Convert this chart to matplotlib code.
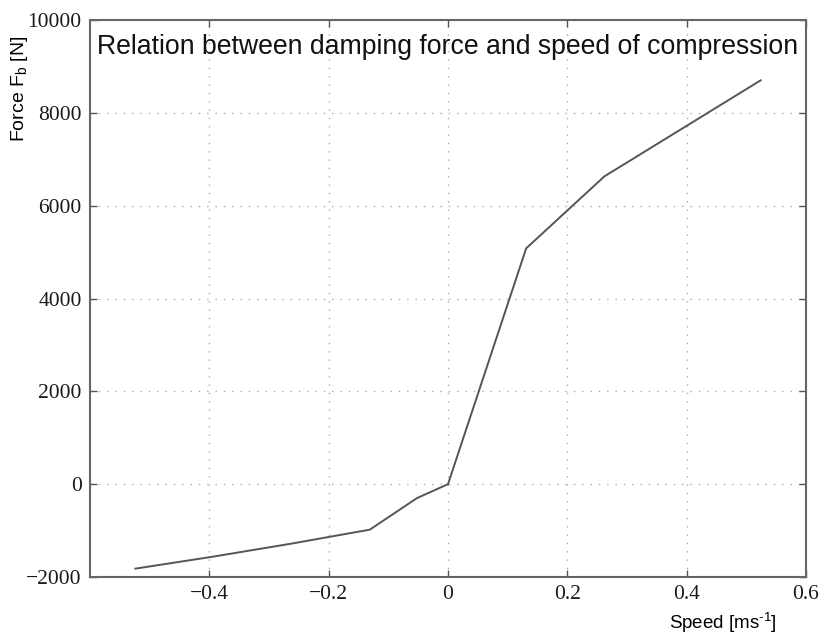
import matplotlib
matplotlib.use("Agg")
import matplotlib.pyplot as plt

plt.rcParams["mathtext.fontset"] = "custom"
plt.rcParams["mathtext.rm"] = "Liberation Sans"
plt.rcParams["mathtext.it"] = "Liberation Sans:italic"

# Damper characteristic: speed of compression vs. damping force
speed = [-0.524, -0.393, -0.262, -0.131, -0.052, 0.0, 0.131, 0.262, 0.524]
force = [-1820, -1560, -1280, -980, -300, 0, 5080, 6630, 8700]

x_ticks = [-0.4, -0.2, 0.0, 0.2, 0.4, 0.6]
x_tick_labels = ["\u22120.4", "\u22120.2", "0", "0.2", "0.4", "0.6"]
y_ticks = [-2000, 0, 2000, 4000, 6000, 8000, 10000]
y_tick_labels = ["\u22122000", "0", "2000", "4000", "6000", "8000", "10000"]

fig = plt.figure(figsize=(8.24, 6.34), dpi=100)
ax = fig.add_axes([90 / 824, 1 - 577 / 634, (806 - 90) / 824, (577 - 20) / 634])

ax.plot(speed, force, color="#555555", linewidth=1.4)

ax.set_xlim(-0.6, 0.6)
ax.set_ylim(-2000, 10000)
ax.set_xticks(x_ticks)
ax.set_xticklabels(x_tick_labels)
ax.set_yticks(y_ticks)
ax.set_yticklabels(y_tick_labels)

for lbl in ax.get_xticklabels() + ax.get_yticklabels():
    lbl.set_fontfamily("Liberation Serif")
    lbl.set_fontsize(15.5)
    lbl.set_color("#1a1a1a")

ax.tick_params(direction="in", length=5, width=1, color="#555555",
               top=True, right=True, pad=6)
ax.grid(True, linestyle=(0, (1, 5)), color="#aaaaaa", linewidth=1)
for sp in ax.spines.values():
    sp.set_color("#666666")
    sp.set_linewidth(1.5)

ax.text(0.01, 0.975, "Relation between damping force and speed of compression",
        transform=ax.transAxes, ha="left", va="top",
        fontfamily="Liberation Sans", fontsize=19.2, color="#111111")

fig.text(777 / 824, 1 - 623 / 634, "Speed [ms$^{\\text{-}1}$]", ha="right", va="center",
         fontfamily="Liberation Sans", fontsize=13.5)
fig.text(20 / 824, 1 - 89 / 634, "Force F$_\\mathrm{b}$ [N]", rotation=90,
         ha="center", va="center", fontfamily="Liberation Sans", fontsize=14)

fig.savefig("out.png", dpi=100)
